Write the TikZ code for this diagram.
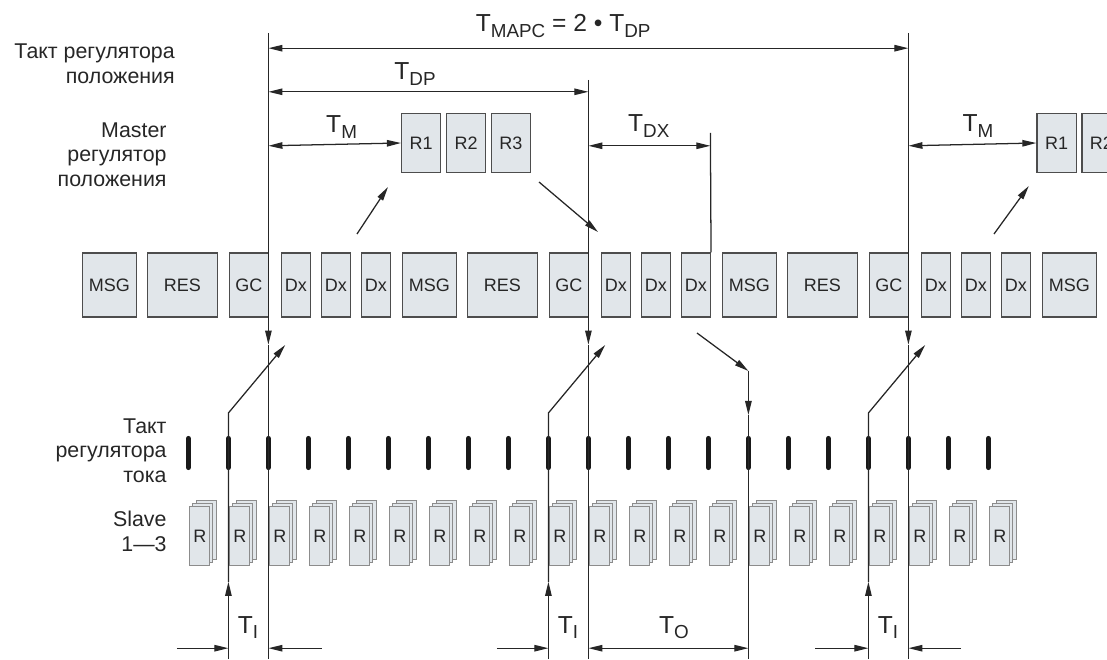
\documentclass[tikz,border=0pt]{standalone}
\usepackage{fontspec}
\setmainfont{Liberation Sans}
\usetikzlibrary{arrows.meta,positioning}
\definecolor{boxfill}{HTML}{E1E6EA}
\definecolor{boxline}{HTML}{4D4D4D}
\definecolor{ink}{HTML}{262626}
\definecolor{stackline}{HTML}{8C8C8C}
\newcommand{\tsub}[2]{#1\raisebox{-.22em}{\fontsize{13.4}{13.4}\selectfont #2}}

\begin{document}
\begin{tikzpicture}[line join=miter,
  font=\fontsize{12.8}{17.5}\selectfont,text=ink,
  tip/.style={-{Triangle[length=10pt,width=4.6pt]}},
  twotip/.style={{Triangle[length=10pt,width=4.6pt]}-{Triangle[length=10pt,width=4.6pt]}},
  rule/.style={draw=ink,line width=.9pt},
  frame/.style={draw=boxline,fill=boxfill,line width=.9pt,inner sep=0pt,
    minimum height=1.6cm},
  regbox/.style={draw=boxline,fill=boxfill,line width=.9pt,inner sep=0pt,
    minimum width=.98cm,minimum height=1.48cm},
  layer/.style={draw=stackline,fill=boxfill,line width=.6pt},
  slavebox/.style={layer,inner sep=0pt,minimum width=.5cm,minimum height=1.475cm},
  clk/.style={line width=3.8pt,line cap=round,draw=black!90},
  lbl/.style={align=right,anchor=base east,inner sep=0pt,
    font=\fontsize{15.2}{17.6}\selectfont},
  tlab/.style={font=\fontsize{17.5}{20}\selectfont,anchor=base,inner sep=0pt}]
\path[use as bounding box] (0,0) rectangle (27.675,16.475);
\clip (0,0) rectangle (27.675,16.475);

% подписи слева
\node[lbl] (posclk) at (4.375,14.39) {Такт регулятора\\положения};
\node[lbl] (master) at (4.17,11.81) {Master\\регулятор\\положения};
\node[lbl] (curclk) at (4.17,4.41) {Такт\\регулятора\\тока};
\node[lbl] (slave) at (4.17,2.7) {Slave\\1—3};

% шина: MSG RES GC Dx Dx Dx, период 8
\foreach \c/\s in {1/2.06,2/10.06,3/18.06}{
  \node[frame,minimum width=1.35cm] (msg\c) at (\s+.675,9.35) {MSG};
  \node[frame,minimum width=1.75cm] (res\c) at (\s+2.5,9.35) {RES};
  \node[frame,minimum width=.975cm] (gc\c) at (\s+4.1625,9.35) {GC};
  \node[frame,minimum width=.725cm] (dxa\c) at (\s+5.3375,9.35) {Dx};
  \node[frame,minimum width=.725cm] (dxb\c) at (\s+6.3375,9.35) {Dx};
  \node[frame,minimum width=.725cm] (dxc\c) at (\s+7.3375,9.35) {Dx};
}
\node[frame,minimum width=1.35cm] (msg4) at (26.735,9.35) {MSG};

% master: R1 R2 R3
\node[regbox] (ra1) at (10.53,12.9) {R1};
\node[regbox,right=.11cm of ra1] (ra2) {R2};
\node[regbox,right=.11cm of ra2] (ra3) {R3};
\node[regbox] (rb1) at (26.415,12.9) {R1};
\node[regbox,right=.11cm of rb1] (rb2) {R2};

% такт тока и slave
\foreach \k in {0,...,20}{
  \pgfmathsetmacro\tx{4.71+\k}
  \draw[clk] (\tx,4.79) -- (\tx,5.51);
  \draw[layer] (\tx+.195,2.495) rectangle ++(.5,1.475);
  \draw[layer] (\tx+.11,2.41) rectangle ++(.5,1.475);
  \node[slavebox,anchor=south west] (r\k) at (\tx+.025,2.325) {R};
}

% линии GC
\foreach \n/\x/\t in {1/6.71/15.65,2/14.71/14.475,3/22.71/15.65}{
  \coordinate (top\n) at (\x,\t);
  \coordinate (mid\n) at (\x,7.86);
  \coordinate (bot\n) at (\x,0);
  \draw[rule,tip] (top\n) -- (mid\n);
  \draw[rule] (mid\n) -- (bot\n);
}
% линии входа
\foreach \n/\x in {1/5.71,2/13.71,3/21.71}{
  \coordinate (kb\n) at (\x,0);
  \coordinate (ka\n) at (\x,1.93);
  \coordinate (kk\n) at (\x,6.15);
  \coordinate (kt\n) at (\x+1.42,7.85);
  \draw[rule,tip] (kb\n) -- (ka\n);
  \draw[rule,tip] (ka\n) -- (kk\n) -- (kt\n);
}

% T_DX и выход
\coordinate (dxtop) at (17.76,13.15);
\draw[rule] (dxtop) -- (dxc2.north east);
\coordinate (outs) at (17.425,8.15);
\coordinate (outt) at (18.71,7.2);
\coordinate (outa) at (18.71,6.1);
\coordinate (outb) at (18.71,0);
\draw[rule,tip] (outs) -- (outt);
\draw[rule,tip] (outt) -- (outa);
\draw[rule] (outa) -- (outb);

% стрелки шина <-> master
\coordinate (upa) at (8.925,10.625);
\coordinate (upb) at (24.85,10.625);
\draw[rule,tip] (upa) -- (9.7,11.8);
\draw[rule,tip] (upb) -- (25.72,11.825);
\coordinate (down) at (14.95,10.675);
\draw[rule,tip] (13.475,11.925) -- (down);

% размеры сверху
\coordinate (mapcl) at (6.71,15.27);
\coordinate (mapcr) at (22.71,15.27);
\draw[rule,twotip] (mapcl) -- (mapcr);
\node[tlab] (tmapc) at (14.08,15.68) {\tsub{T}{MAPC} = 2 • \tsub{T}{DP}};
\coordinate (dpl) at (6.71,14.18);
\coordinate (dpr) at (14.71,14.18);
\draw[rule,twotip] (dpl) -- (dpr);
\node[tlab] (tdp) at (10.375,14.475) {\tsub{T}{DP}};
\coordinate (ml) at (6.71,12.83);
\draw[rule,twotip] (ml) -- (ra1.west);
\node[tlab] (tm1) at (8.54,13.15) {\tsub{T}{M}};
\coordinate (dxl) at (14.71,12.83);
\coordinate (dxr) at (17.76,12.83);
\draw[rule,twotip] (dxl) -- (dxr);
\node[tlab] (tdx) at (16.22,13.18) {\tsub{T}{DX}};
\coordinate (mr) at (22.71,12.83);
\draw[rule,twotip] (mr) -- (rb1.west);
\node[tlab] (tm2) at (24.45,13.18) {\tsub{T}{M}};

% размеры снизу
\foreach \n/\a/\b in {1/4.42/5.71,2/12.42/13.71,3/20.375/21.71}{
  \coordinate (ila\n) at (\a,.27);
  \coordinate (ilb\n) at (\b,.27);
  \draw[rule,tip] (ila\n) -- (ilb\n);
}
\coordinate (irs1) at (8.04,.27);  \coordinate (ire1) at (6.71,.27);
\coordinate (irs3) at (24.03,.27); \coordinate (ire3) at (22.71,.27);
\draw[rule,tip] (irs1) -- (ire1);
\draw[rule,tip] (irs3) -- (ire3);
\coordinate (tol) at (14.71,.27);
\coordinate (tor) at (18.71,.27);
\draw[rule,twotip] (tol) -- (tor);
\node[tlab] (ti1) at (6.2,.64) {\tsub{T}{I}};
\node[tlab] (ti2) at (14.2,.64) {\tsub{T}{I}};
\node[tlab] (ti3) at (22.2,.64) {\tsub{T}{I}};
\node[tlab] (to) at (16.85,.64) {\tsub{T}{O}};
\end{tikzpicture}
\end{document}
